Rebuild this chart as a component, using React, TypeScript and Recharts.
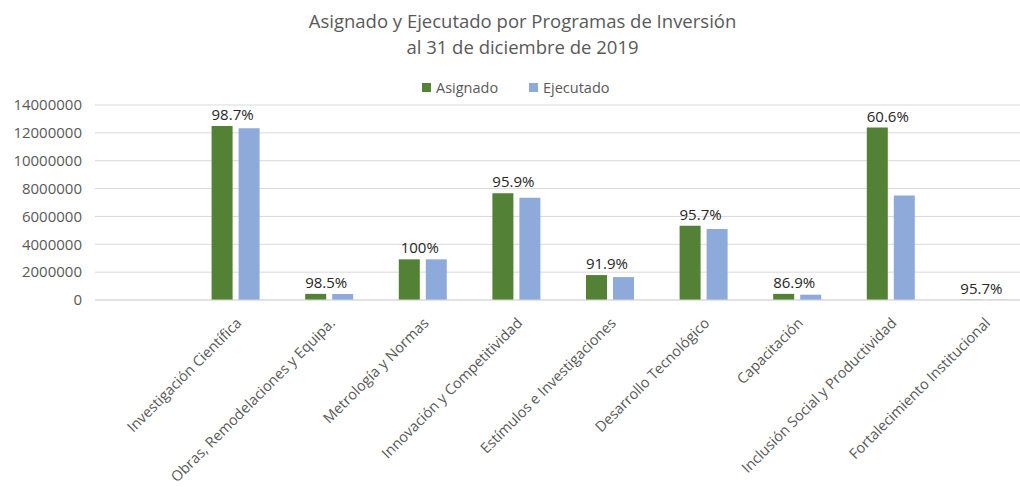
import React from "react";
import { BarChart, Bar, XAxis, YAxis, CartesianGrid, LabelList } from "recharts";

const categories = [
  "",
  "Investigación Científica",
  "Obras, Remodelaciones y Equipa.",
  "Metrología y Normas",
  "Innovación y Competitividad",
  "Estímulos e Investigaciones",
  "Desarrollo Tecnológico",
  "Capacitación",
  "Inclusión Social y Productividad",
  "Fortalecimiento Institucional",
];
const asignado = [null, 12490000, 440000, 2920000, 7660000, 1790000, 5330000, 440000, 12380000, 20000];
const ejecutado = [null, 12330000, 433000, 2920000, 7350000, 1645000, 5100000, 382000, 7500000, 19000];
const porcentajes = ["", "98.7%", "98.5%", "100%", "95.9%", "91.9%", "95.7%", "86.9%", "60.6%", "95.7%"];
const yTicks = [0, 2000000, 4000000, 6000000, 8000000, 10000000, 12000000, 14000000];
const seriesNames = ["Asignado", "Ejecutado"];
const seriesColors = ["#538135", "#8eaadb"];

const data = categories.map((c, i) => ({
  name: c,
  Asignado: asignado[i],
  Ejecutado: ejecutado[i],
  pct: porcentajes[i],
}));

const FONT = "'Open Sans', sans-serif";

const XTick = (props: any) => {
  const { x, y, payload } = props;
  return (
    <text
      x={x + 7}
      y={y + 24}
      textAnchor="end"
      transform={`rotate(-45 ${x + 7} ${y + 24})`}
      fontFamily={FONT}
      fontSize={14.5}
      fill="#595959"
    >
      {payload.value}
    </text>
  );
};

const PctLabel = (props: any) => {
  const { x, y, width, value } = props;
  if (!value) return null;
  return (
    <text
      x={x + width}
      y={y - 6}
      textAnchor="middle"
      fontFamily={FONT}
      fontSize={15}
      fill="#262626"
    >
      {value}
    </text>
  );
};

export default function App() {
  return (
    <div
      style={{
        position: "absolute",
        left: 0,
        top: 0,
        width: 1020,
        height: 487,
        overflow: "hidden",
        background: "#fff",
      }}
    >
      <div
        style={{
          position: "absolute",
          left: 0,
          top: 8,
          width: 1045,
          textAlign: "center",
          fontFamily: FONT,
          fontSize: 18.5,
          lineHeight: "26px",
          color: "#595959",
        }}
      >
        Asignado y Ejecutado por Programas de Inversión
        <br />
        al 31 de diciembre de 2019
      </div>
      {seriesNames.map((n, i) => (
        <div
          key={n}
          style={{
            position: "absolute",
            top: 78,
            left: i === 0 ? 422 : 529,
            fontFamily: FONT,
            fontSize: 14.5,
            lineHeight: "20px",
            color: "#595959",
            whiteSpace: "nowrap",
          }}
        >
          <span
            style={{
              display: "inline-block",
              width: 9,
              height: 9,
              background: seriesColors[i],
              marginRight: 5,
              verticalAlign: "1px",
            }}
          />
          {n}
        </div>
      ))}
      <BarChart
        width={1040}
        height={487}
        data={data}
        margin={{ top: 105, right: 9, bottom: 0, left: 0 }}
        barGap={6}
        barSize={21}
      >
        <CartesianGrid vertical={false} stroke="#d9d9d9" />
        <XAxis
          dataKey="name"
          interval={0}
          height={187}
          tickLine={false}
          tickSize={0}
          tickMargin={0}
          axisLine={{ stroke: "#d9d9d9" }}
          tick={<XTick />}
        />
        <YAxis
          width={95}
          domain={[0, 14000000]}
          ticks={yTicks}
          tickLine={false}
          axisLine={false}
          tickSize={0}
          tickMargin={13}
          tick={{ fontFamily: FONT, fontSize: 15, fill: "#595959" }}
        />
        <Bar dataKey="Asignado" fill={seriesColors[0]} isAnimationActive={false}>
          <LabelList dataKey="pct" content={<PctLabel />} />
        </Bar>
        <Bar dataKey="Ejecutado" fill={seriesColors[1]} isAnimationActive={false} />
      </BarChart>
    </div>
  );
}
